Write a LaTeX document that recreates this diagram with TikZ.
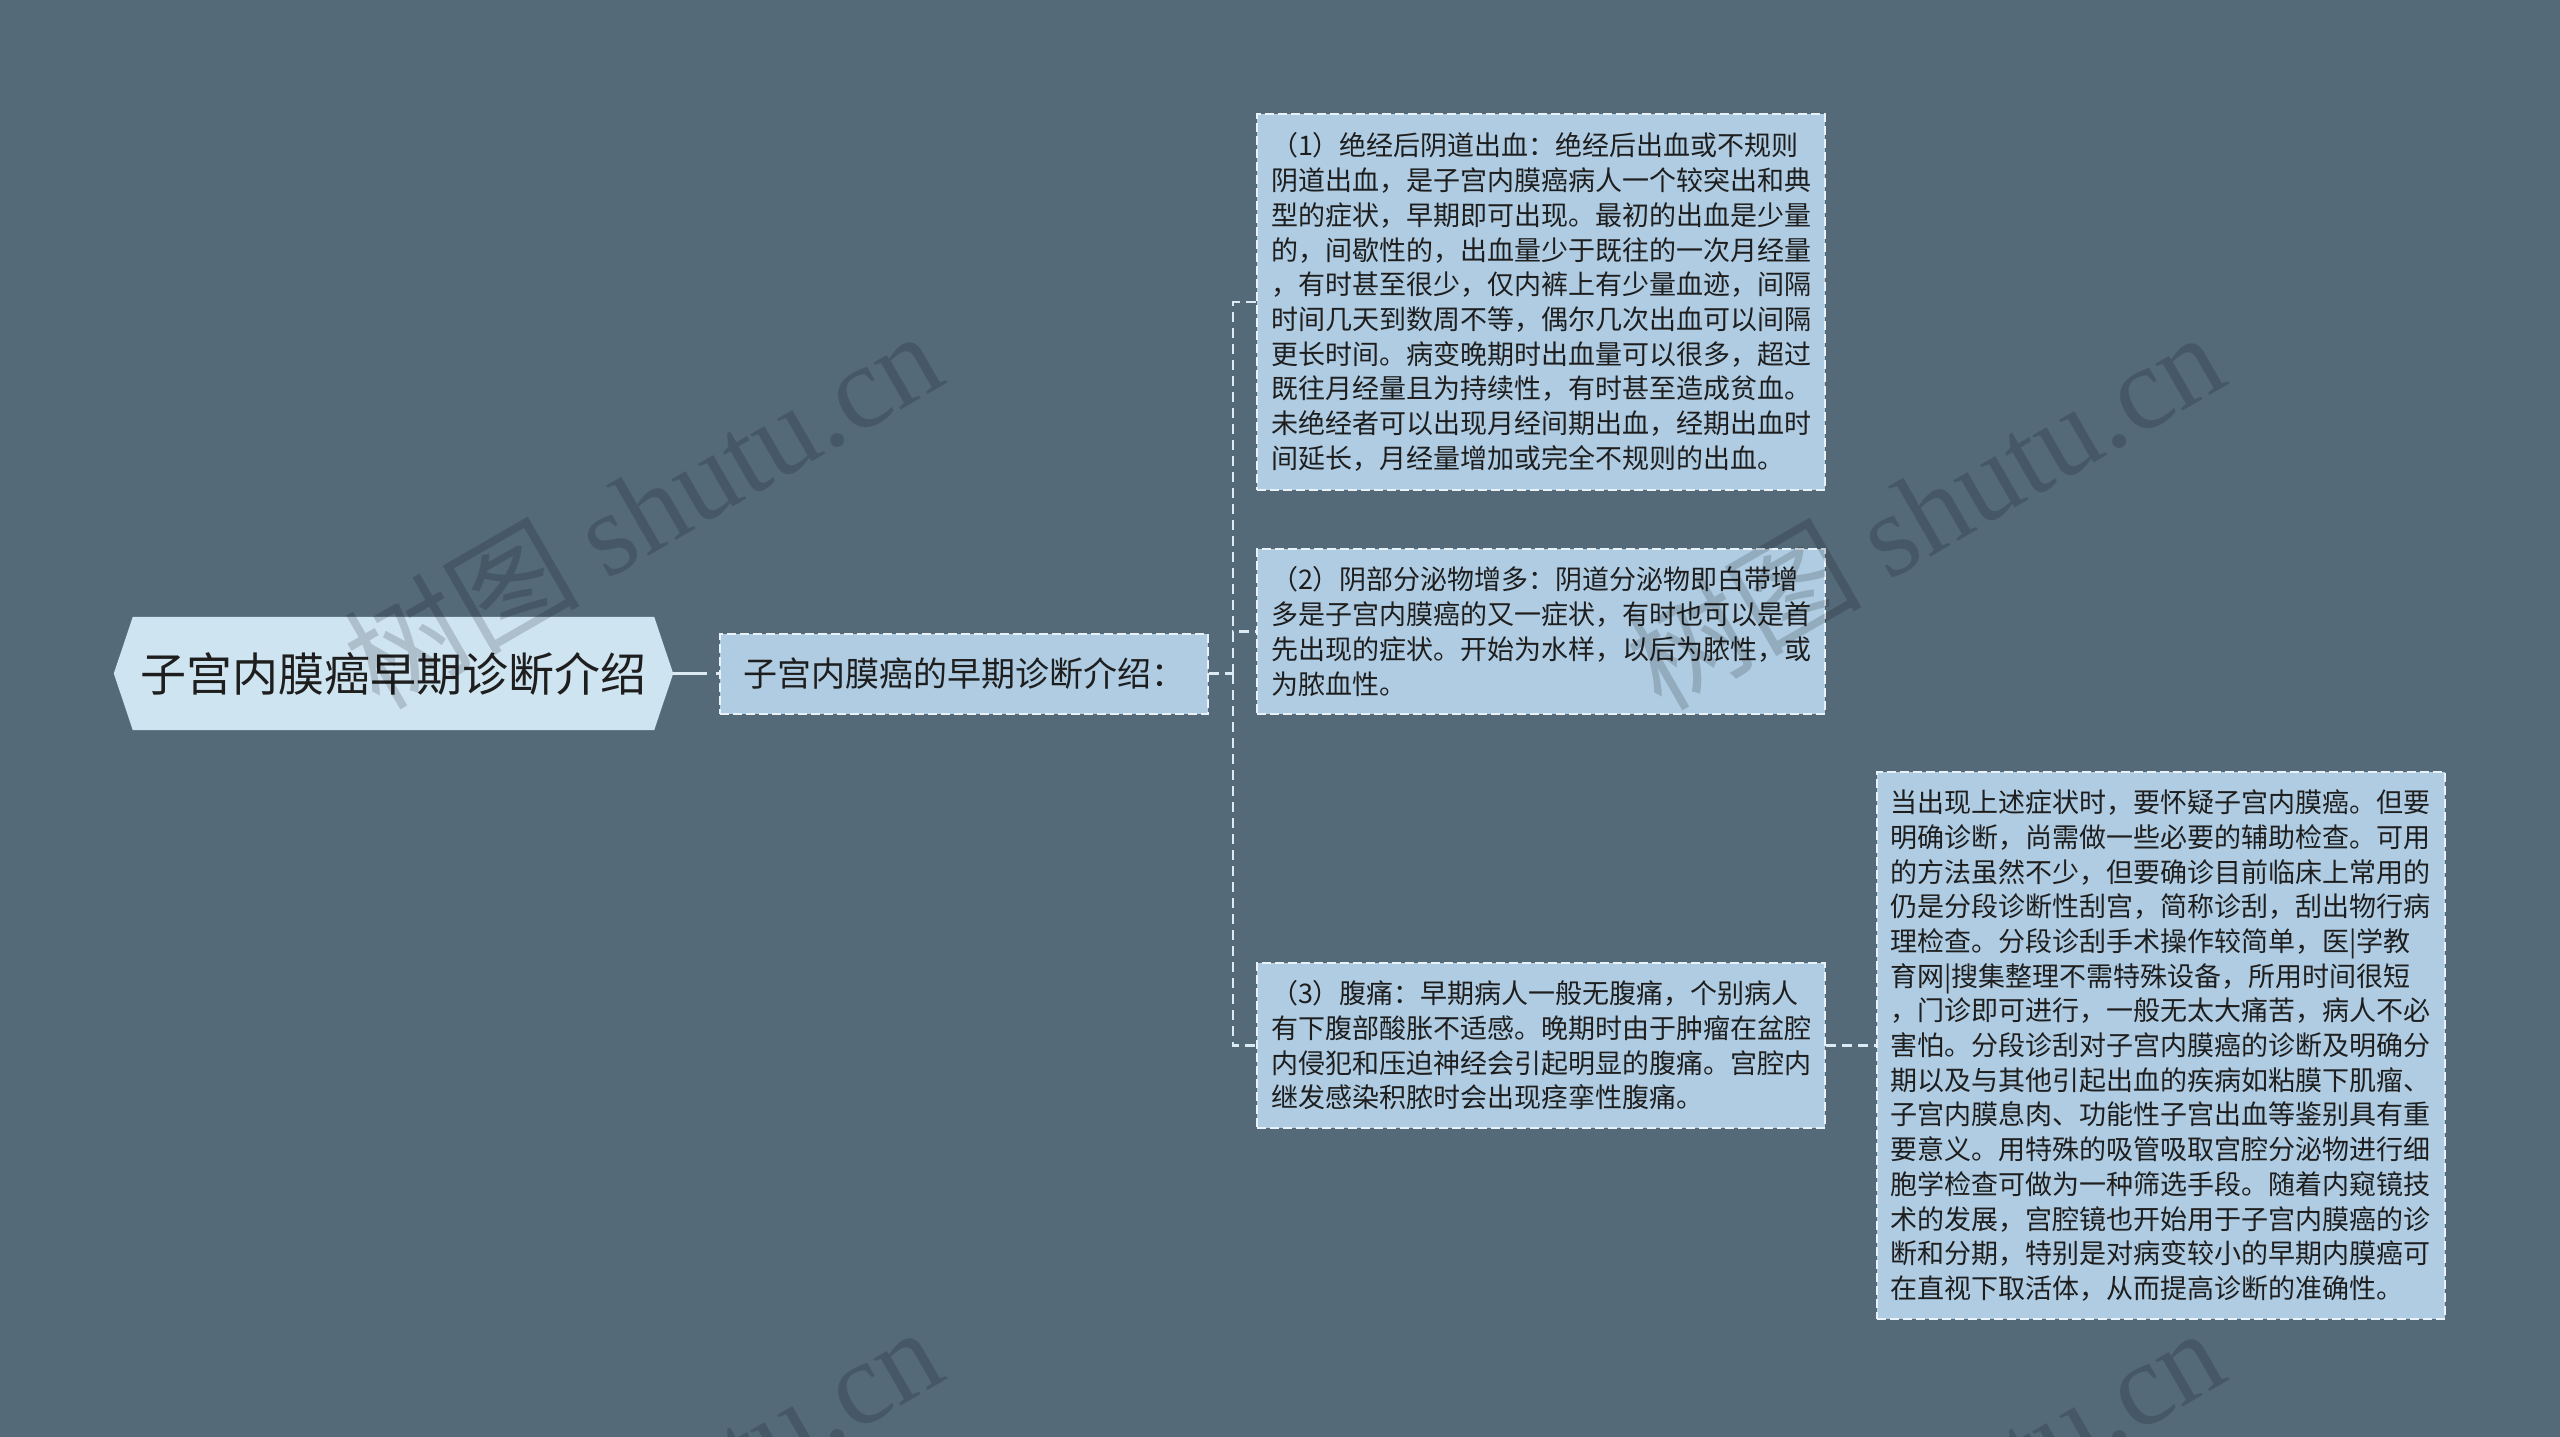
\documentclass[tikz,border=0pt]{standalone}
\usepackage{fontspec}
\setmainfont{Noto Sans CJK SC}
\newfontfamily\wmserif{Liberation Serif}
\usetikzlibrary{backgrounds}
\definecolor{bgc}{RGB}{84,106,121}
\definecolor{rootc}{RGB}{207,228,241}
\definecolor{boxc}{RGB}{175,204,226}
\definecolor{borderc}{RGB}{232,242,248}
\definecolor{connc}{RGB}{220,234,244}
\definecolor{txtc}{RGB}{30,30,30}
\begin{document}
\begin{tikzpicture}[x=1pt,y=-1pt,
  rootnode/.style={rectangle, inner sep=0pt, minimum width=559pt, minimum height=113pt,
    text=txtc, font=\fontsize{46}{55}\selectfont},
  midbox/.style={rectangle, fill=boxc, draw=borderc, line width=2pt, dash pattern=on 9pt off 4pt,
    inner sep=0pt, minimum width=488pt, minimum height=80pt, text=txtc,
    font=\fontsize{34}{40}\selectfont},
  leafbox/.style={rectangle, fill=boxc, draw=borderc, line width=2pt, dash pattern=on 9pt off 4pt,
    inner xsep=14pt, inner ysep=0pt, text width=540pt, align=left, text=txtc,
    font=\fontsize{27}{34.7}\selectfont},
  conn/.style={draw=connc, line width=2.5pt, dash pattern=on 10pt off 6pt},
  rootconn/.style={draw=connc, line width=3pt, dash pattern=on 34pt off 9pt},
  wm/.style={text=black, text opacity=0.16, inner sep=0pt, rotate=30}
]
\useasboundingbox (0,0) rectangle (2560,1437);

\node[rootnode] (root) at (393.5,673.5) {子宫内膜癌早期诊断介绍};
\node[midbox] (l2) at (964,673.5) {子宫内膜癌的早期诊断介绍：};

\node[leafbox, minimum height=376pt] (c1) at (1541,302) {%
（1）绝经后阴道出血：绝经后出血或不规则\\
阴道出血，是子宫内膜癌病人一个较突出和典\\
型的症状，早期即可出现。最初的出血是少量\\
的，间歇性的，出血量少于既往的一次月经量\\
，有时甚至很少，仅内裤上有少量血迹，间隔\\
时间几天到数周不等，偶尔几次出血可以间隔\\
更长时间。病变晚期时出血量可以很多，超过\\
既往月经量且为持续性，有时甚至造成贫血。\\
未绝经者可以出现月经间期出血，经期出血时\\
间延长，月经量增加或完全不规则的出血。};

\node[leafbox, minimum height=165pt] (c2) at (1541,631.5) {%
（2）阴部分泌物增多：阴道分泌物即白带增\\
多是子宫内膜癌的又一症状，有时也可以是首\\
先出现的症状。开始为水样，以后为脓性，或\\
为脓血性。};

\node[leafbox, minimum height=165pt] (c3) at (1541,1045.5) {%
（3）腹痛：早期病人一般无腹痛，个别病人\\
有下腹部酸胀不适感。晚期时由于肿瘤在盆腔\\
内侵犯和压迫神经会引起明显的腹痛。宫腔内\\
继发感染积脓时会出现痉挛性腹痛。};

\node[leafbox, minimum height=547pt] (c4) at (2160.5,1045.5) {%
当出现上述症状时，要怀疑子宫内膜癌。但要\\
明确诊断，尚需做一些必要的辅助检查。可用\\
的方法虽然不少，但要确诊目前临床上常用的\\
仍是分段诊断性刮宫，简称诊刮，刮出物行病\\
理检查。分段诊刮手术操作较简单，医|学教\\
育网|搜集整理不需特殊设备，所用时间很短\\
，门诊即可进行，一般无太大痛苦，病人不必\\
害怕。分段诊刮对子宫内膜癌的诊断及明确分\\
期以及与其他引起出血的疾病如粘膜下肌瘤、\\
子宫内膜息肉、功能性子宫出血等鉴别具有重\\
要意义。用特殊的吸管吸取宫腔分泌物进行细\\
胞学检查可做为一种筛选手段。随着内窥镜技\\
术的发展，宫腔镜也开始用于子宫内膜癌的诊\\
断和分期，特别是对病变较小的早期内膜癌可\\
在直视下取活体，从而提高诊断的准确性。};

\begin{scope}[on background layer]
  \fill[bgc] (0,0) rectangle (2560,1437);
  \fill[rootc] (root.west) -- ([xshift=19pt]root.north west) -- ([xshift=-19pt]root.north east)
    -- (root.east) -- ([xshift=-19pt]root.south east) -- ([xshift=19pt]root.south west) -- cycle;
\end{scope}

\coordinate (j) at (1233,673.5);
\draw[rootconn] (root.east) -- (l2.west);
\draw[conn] (l2.east) -- (j);
\draw[conn] (j) |- (c1.west);
\draw[conn] (j) |- (c2.west);
\draw[conn] (j) |- (c3.west);
\draw[conn] (c3.east) -- (c4.west);

\begin{scope}
  \clip (0,0) rectangle (2560,1437);
  \node[wm] (wm1) at (642,508) {\fontsize{118}{130}\selectfont 树图 {\wmserif shutu.cn}};
  \node[wm] (wm2) at (1924,509) {\fontsize{118}{130}\selectfont 树图 {\wmserif shutu.cn}};
  \node[wm] (wm3) at (642,1504) {\fontsize{118}{130}\selectfont 树图 {\wmserif shutu.cn}};
  \node[wm] (wm4) at (1924,1505) {\fontsize{118}{130}\selectfont 树图 {\wmserif shutu.cn}};
\end{scope}
\end{tikzpicture}
\end{document}
